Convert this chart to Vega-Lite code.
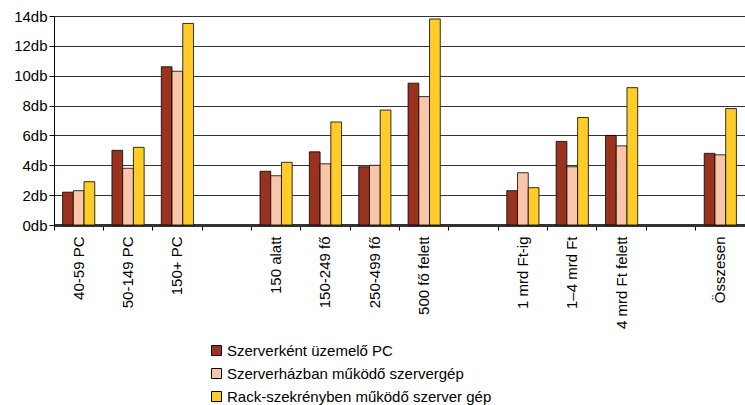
{
  "$schema": "https://vega.github.io/schema/vega-lite/v6.json",
  "autosize": {"type": "none"},
  "padding": {"left": 54, "top": 16, "right": 0, "bottom": 180},
  "width": 691,
  "height": 209,
  "background": "white",
  "config": {"view": {"stroke": null}, "font": "Liberation Sans"},
  "data": {"values": [
    {"cat": "40-59 PC", "series": "Szerverként üzemelő PC", "value": 2.2},
    {"cat": "40-59 PC", "series": "Szerverházban működő szervergép", "value": 2.3},
    {"cat": "40-59 PC", "series": "Rack-szekrényben működő szerver gép", "value": 2.9},
    {"cat": "50-149 PC", "series": "Szerverként üzemelő PC", "value": 5.0},
    {"cat": "50-149 PC", "series": "Szerverházban működő szervergép", "value": 3.8},
    {"cat": "50-149 PC", "series": "Rack-szekrényben működő szerver gép", "value": 5.2},
    {"cat": "150+ PC", "series": "Szerverként üzemelő PC", "value": 10.6},
    {"cat": "150+ PC", "series": "Szerverházban működő szervergép", "value": 10.3},
    {"cat": "150+ PC", "series": "Rack-szekrényben működő szerver gép", "value": 13.5},
    {"cat": "150 alatt", "series": "Szerverként üzemelő PC", "value": 3.6},
    {"cat": "150 alatt", "series": "Szerverházban működő szervergép", "value": 3.3},
    {"cat": "150 alatt", "series": "Rack-szekrényben működő szerver gép", "value": 4.2},
    {"cat": "150-249 fő", "series": "Szerverként üzemelő PC", "value": 4.9},
    {"cat": "150-249 fő", "series": "Szerverházban működő szervergép", "value": 4.1},
    {"cat": "150-249 fő", "series": "Rack-szekrényben működő szerver gép", "value": 6.9},
    {"cat": "250-499 fő", "series": "Szerverként üzemelő PC", "value": 3.9},
    {"cat": "250-499 fő", "series": "Szerverházban működő szervergép", "value": 4.0},
    {"cat": "250-499 fő", "series": "Rack-szekrényben működő szerver gép", "value": 7.7},
    {"cat": "500 fő felett", "series": "Szerverként üzemelő PC", "value": 9.5},
    {"cat": "500 fő felett", "series": "Szerverházban működő szervergép", "value": 8.6},
    {"cat": "500 fő felett", "series": "Rack-szekrényben működő szerver gép", "value": 13.8},
    {"cat": "1 mrd Ft-ig", "series": "Szerverként üzemelő PC", "value": 2.3},
    {"cat": "1 mrd Ft-ig", "series": "Szerverházban működő szervergép", "value": 3.5},
    {"cat": "1 mrd Ft-ig", "series": "Rack-szekrényben működő szerver gép", "value": 2.5},
    {"cat": "1–4 mrd Ft", "series": "Szerverként üzemelő PC", "value": 5.6},
    {"cat": "1–4 mrd Ft", "series": "Szerverházban működő szervergép", "value": 3.9},
    {"cat": "1–4 mrd Ft", "series": "Rack-szekrényben működő szerver gép", "value": 7.2},
    {"cat": "4 mrd Ft felett", "series": "Szerverként üzemelő PC", "value": 6.0},
    {"cat": "4 mrd Ft felett", "series": "Szerverházban működő szervergép", "value": 5.3},
    {"cat": "4 mrd Ft felett", "series": "Rack-szekrényben működő szerver gép", "value": 9.2},
    {"cat": "Összesen", "series": "Szerverként üzemelő PC", "value": 4.8},
    {"cat": "Összesen", "series": "Szerverházban működő szervergép", "value": 4.7},
    {"cat": "Összesen", "series": "Rack-szekrényben működő szerver gép", "value": 7.8}
  ]},
  "mark": {"type": "bar", "stroke": "black", "strokeWidth": 0.8},
  "encoding": {
    "x": {
      "field": "cat",
      "type": "nominal",
      "scale": {
        "domain": ["40-59 PC", "50-149 PC", "150+ PC", "_gap1", "150 alatt", "150-249 fő", "250-499 fő", "500 fő felett", "_gap2", "1 mrd Ft-ig", "1–4 mrd Ft", "4 mrd Ft felett", "_gap3", "Összesen"],
        "paddingInner": 0,
        "paddingOuter": 0
      },
      "axis": {
        "title": null,
        "bandPosition": 0,
        "labelAngle": -90,
        "labelAlign": "right",
        "labelBaseline": "middle",
        "labelDy": 23,
        "labelFontSize": 15,
        "labelColor": "black",
        "labelPadding": 6,
        "tickSize": 5,
        "tickColor": "black",
        "domainWidth": 3,
        "domainColor": "#333333",
        "labelExpr": "indexof(datum.value, '_gap') == 0 ? '' : datum.value"
      }
    },
    "xOffset": {
      "field": "series",
      "type": "nominal",
      "scale": {
        "domain": ["Szerverként üzemelő PC", "Szerverházban működő szervergép", "Rack-szekrényben működő szerver gép"],
        "paddingInner": 0,
        "paddingOuter": 0.8
      }
    },
    "y": {
      "field": "value",
      "type": "quantitative",
      "scale": {"domain": [0, 14], "nice": false},
      "axis": {
        "title": null,
        "values": [0, 2, 4, 6, 8, 10, 12, 14],
        "labelExpr": "datum.value + 'db'",
        "grid": true,
        "gridColor": "#333333",
        "gridWidth": 1,
        "domainColor": "black",
        "tickColor": "black",
        "tickSize": 5,
        "labelFontSize": 15,
        "labelColor": "black",
        "labelPadding": 2
      }
    },
    "color": {
      "field": "series",
      "type": "nominal",
      "scale": {
        "domain": ["Szerverként üzemelő PC", "Szerverházban működő szervergép", "Rack-szekrényben működő szerver gép"],
        "range": ["#993320", "#F9C6AA", "#FFCC29"]
      },
      "legend": {
        "title": null,
        "orient": "none",
        "legendX": 155,
        "legendY": 327,
        "direction": "vertical",
        "symbolType": "square",
        "symbolSize": 100,
        "symbolStrokeColor": "black",
        "symbolStrokeWidth": 1,
        "symbolOpacity": 1,
        "labelFontSize": 15,
        "labelLimit": 0,
        "labelColor": "black",
        "rowPadding": 7,
        "labelOffset": 3
      }
    }
  }
}
